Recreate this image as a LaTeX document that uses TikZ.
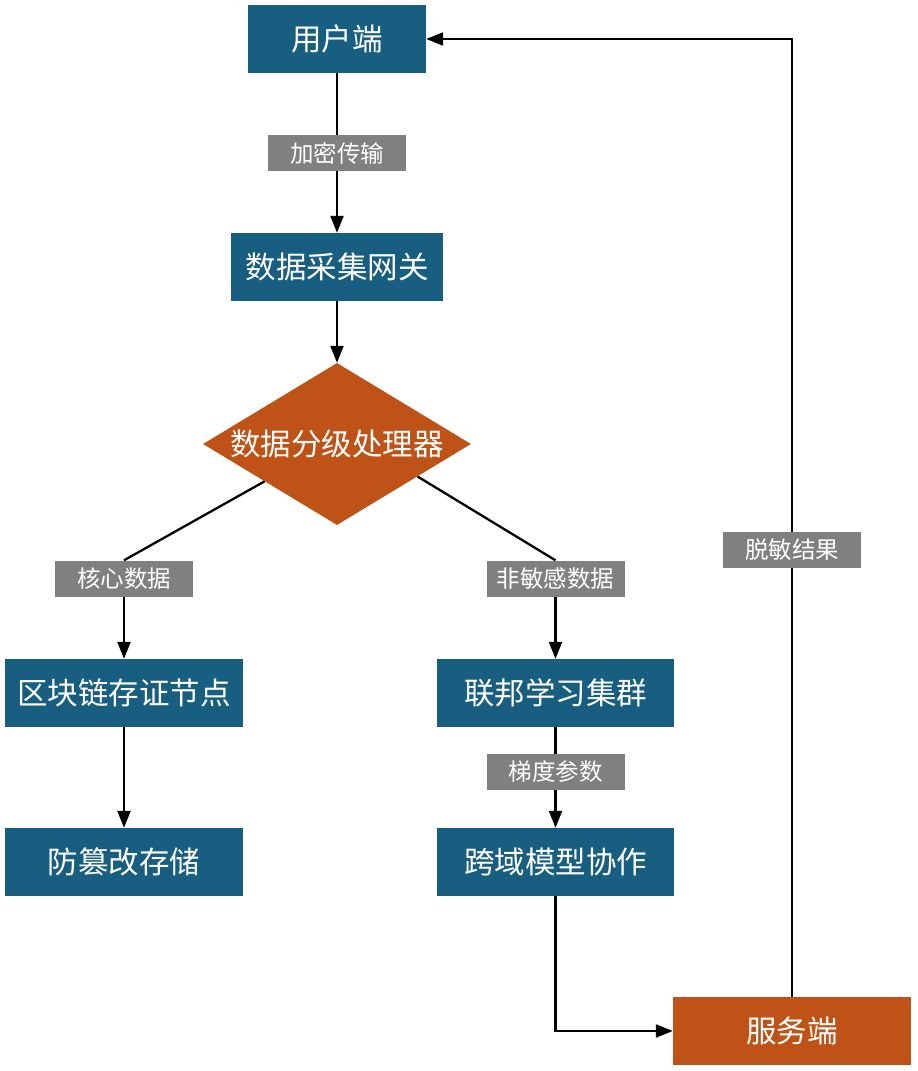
\documentclass[tikz,border=0pt]{standalone}
\usepackage{fontspec}
\newfontfamily\cjk{Noto Sans CJK SC}
\usetikzlibrary{shapes.geometric,arrows.meta,calc}
\definecolor{boxblue}{RGB}{23,94,128}
\definecolor{boxorange}{RGB}{191,82,22}
\definecolor{labgray}{RGB}{128,128,128}
\begin{document}
\begin{tikzpicture}[x=1pt,y=-1pt,
  mainbox/.style={rectangle,fill=boxblue,text=white,minimum height=68pt,inner sep=0pt,font=\cjk\fontsize{30.5}{36}\selectfont},
  srvbox/.style={mainbox,fill=boxorange},
  edgelab/.style={rectangle,fill=labgray,text=white,minimum width=138pt,minimum height=36pt,inner sep=0pt,font=\cjk\fontsize{23.5}{28}\selectfont},
  conn/.style={line width=2.3pt,black},
  arr/.style={conn,-{Triangle[length=17pt,width=13pt]}}
]
\useasboundingbox (0,0) rectangle (918,1071);
\node[mainbox,minimum width=178pt] (user) at (337,39) {用户端};
\node[edgelab] (lenc) at (337,153) {加密传输};
\node[mainbox,minimum width=212pt] (gw) at (337,267) {数据采集网关};
\node[diamond,fill=boxorange,minimum width=268pt,minimum height=162pt,inner sep=0pt] (dia) at (337,444) {};
\node[text=white,font=\cjk\fontsize{30.5}{36}\selectfont,inner sep=0pt] (diatext) at (337,444) {数据分级处理器};
\node[edgelab] (lcore) at (124,578.5) {核心数据};
\node[edgelab] (lnon) at (555.5,578.5) {非敏感数据};
\node[mainbox,minimum width=238pt] (chain) at (124,693) {区块链存证节点};
\node[mainbox,minimum width=238pt] (tamper) at (124,862) {防篡改存储};
\node[mainbox,minimum width=237pt] (fed) at (555.5,693) {联邦学习集群};
\node[edgelab] (lgrad) at (555.5,772) {梯度参数};
\node[mainbox,minimum width=237pt] (cross) at (555.5,862) {跨域模型协作};
\node[srvbox,minimum width=238pt] (srv) at (792,1031) {服务端};
\node[edgelab] (lres) at (792,550) {脱敏结果};

\draw[conn] (user.south) -- (lenc.north);
\draw[arr] (lenc.south) -- (gw.north);
\draw[arr] (gw.south) -- (dia.north);
\draw[conn] ($(dia.west)!0.46!(dia.south)$) -- (lcore.north);
\draw[arr] (lcore.south) -- (chain.north);
\draw[conn] ($(dia.east)!0.4!(dia.south)$) -- (lnon.north);
\draw[arr] (lnon.south) -- (fed.north);
\draw[arr] (chain.south) -- (tamper.north);
\draw[conn] (fed.south) -- (lgrad.north);
\draw[arr] (lgrad.south) -- (cross.north);
\draw[arr] (cross.south) |- (srv.west);
\draw[conn] (srv.north) -- (lres.south);
\draw[arr] (lres.north) |- (user.east);
\end{tikzpicture}
\end{document}
